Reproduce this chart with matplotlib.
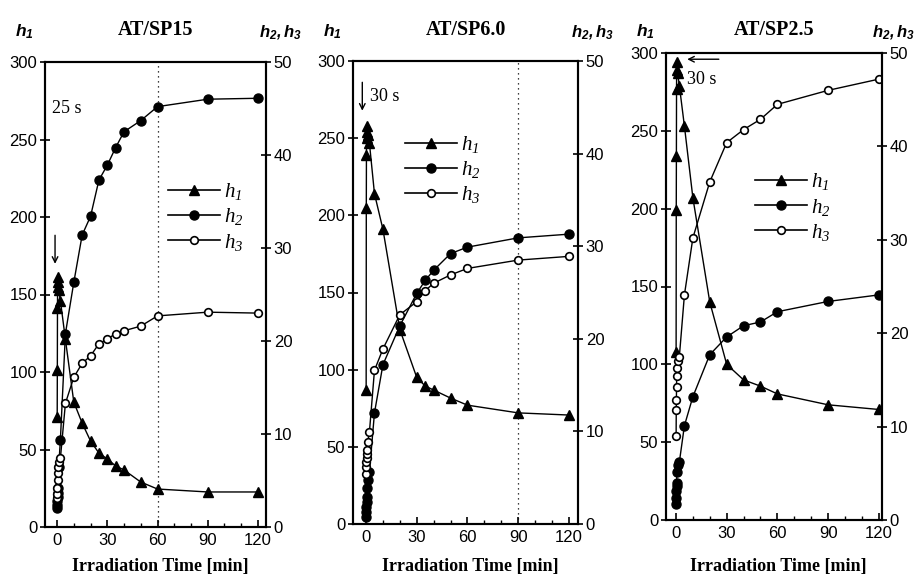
import matplotlib
matplotlib.use('Agg')
import matplotlib.pyplot as plt
from matplotlib.lines import Line2D
from matplotlib.ticker import MultipleLocator

# fuentes: numeros en sans, leyendas en serif italica
plt.rcParams['font.family'] = 'Liberation Sans'
plt.rcParams['mathtext.fontset'] = 'custom'
plt.rcParams['mathtext.it'] = 'Liberation Serif:italic'
plt.rcParams['mathtext.rm'] = 'Liberation Serif:italic'
plt.rcParams['mathtext.bf'] = 'Liberation Sans:italic:bold'

# tiempos en minutos; los primeros puntos son segundos (5 s ... 2 min)
t_seg = [5/60, 10/60, 15/60, 20/60, 25/60, 30/60, 1, 2]

# AT/SP15
t_sp15 = t_seg + [5, 10, 15, 20, 25, 30, 35, 40, 50, 60, 90, 120]
h1_sp15 = [71, 101, 141, 155, 161, 158, 153, 146,
           121, 80.6, 67, 55.5, 47.7, 43.9, 39.4, 36.8, 29, 24.5, 22.6, 22.6]
h2_sp15 = [2.0, 2.4, 2.8, 3.2, 3.7, 4.2, 6.5, 9.4,
           20.8, 26.3, 31.4, 33.4, 37.3, 38.9, 40.8, 42.5, 43.7, 45.2, 46.0, 46.1]
h3_sp15 = [3.1, 3.6, 4.2, 5.1, 5.8, 6.5, 7.0, 7.4,
           13.3, 16.1, 17.6, 18.4, 19.7, 20.2, 20.8, 21.1, 21.6, 22.7, 23.1, 23.0]

# AT/SP6.0
t_sp6 = t_seg + [5, 10, 20, 30, 35, 40, 50, 60, 90, 120]
h1_sp6 = [87, 205, 239, 250, 254, 258, 252, 247,
          214, 191, 126, 95, 89.4, 86.8, 81.6, 77, 72, 70.6]
h2_sp6 = [0.8, 1.3, 1.8, 2.4, 2.9, 3.9, 4.8, 5.6,
          12.0, 17.2, 21.4, 24.9, 26.3, 27.4, 29.2, 29.9, 30.9, 31.3]
h3_sp6 = [5.4, 6.2, 6.7, 7.1, 7.6, 8.0, 8.9, 9.9,
          16.6, 18.9, 22.6, 24.0, 25.2, 26.0, 26.9, 27.6, 28.5, 28.9]

# AT/SP2.5
t_sp25 = t_seg + [5, 10, 20, 30, 40, 50, 60, 90, 120]
h1_sp25 = [108, 199, 234, 277, 289, 294, 287, 279,
           253, 207, 140, 100, 90, 86, 81, 74, 71]
h2_sp25 = [1.7, 2.4, 3.1, 3.6, 4.0, 5.1, 5.9, 6.2,
           10.1, 13.2, 17.7, 19.6, 20.8, 21.2, 22.3, 23.4, 24.1]
h3_sp25 = [9.0, 11.8, 12.9, 14.2, 15.4, 16.3, 17.0, 17.5,
           24.1, 30.2, 36.2, 40.4, 41.8, 42.9, 44.5, 46.0, 47.2]

titulos = ['AT/SP15', 'AT/SP6.0', 'AT/SP2.5']
xticks = [0, 30, 60, 90, 120]

W, H = 916, 579
fig = plt.figure(figsize=(W / 100, H / 100), dpi=100)


def px(x0, y0, x1, y1):
    # caja en pixeles -> fraccion de la figura
    return [x0 / W, 1 - y1 / H, (x1 - x0) / W, (y1 - y0) / H]


def panel(caja, xlim, t, h1, h2, h3, titulo, leg_xy, vline=None):
    ax = fig.add_axes(px(*caja))
    ax2 = ax.twinx()
    ax.plot(t, h1, '-^', color='k', lw=1, ms=7, zorder=3)
    ax2.plot(t, h2, '-o', color='k', lw=1, ms=6.5)
    ax2.plot(t, h3, '-o', color='k', mfc='white', mew=1.2, lw=1, ms=5.5)
    if vline is not None:
        ax.axvline(vline, color='k', ls=(0, (1, 3)), lw=0.9)

    ax.set_xlim(*xlim)
    ax.set_ylim(0, 300)
    ax2.set_ylim(0, 50)
    ax.set_xticks(xticks)
    ax.xaxis.set_minor_locator(MultipleLocator(10))
    ax.set_yticks(range(0, 301, 50))
    ax2.set_yticks(range(0, 51, 10))
    ax.tick_params(axis='x', direction='in', length=5, width=1.2, labelsize=12, pad=4)
    ax.tick_params(axis='x', which='minor', direction='in', length=3, width=1)
    ax.tick_params(axis='y', direction='inout', length=7, width=1.2, labelsize=12, pad=2)
    ax2.tick_params(axis='y', direction='inout', length=7, width=1.2, labelsize=12, pad=2)
    for a in (ax, ax2):
        for s in a.spines.values():
            s.set_linewidth(1.5)

    handles = [
        Line2D([], [], color='k', marker='^', lw=1.2, ms=7),
        Line2D([], [], color='k', marker='o', lw=1.2, ms=6.5),
        Line2D([], [], color='k', marker='o', mfc='white', mew=1.2, lw=1.2, ms=5.5),
    ]
    ax2.legend(handles, [r'$h_1$', r'$h_2$', r'$h_3$'], loc='center left',
               bbox_to_anchor=leg_xy, frameon=False, fontsize=15,
               handlelength=2.5, handletextpad=0.2, labelspacing=0.2,
               borderpad=0, borderaxespad=0)

    # titulo y etiquetas de los ejes
    x0, y0, x1, y1 = caja
    fig.text((x0 + x1) / 2 / W, 1 - 30 / H, titulo, ha='center', va='center',
             family='Liberation Serif', fontsize=14.5, fontweight='bold')
    fig.text((x0 - 30) / W, 1 - 32 / H, r'$\mathbf{h}_{\mathbf{1}}$',
             ha='left', va='center', fontsize=12.5)
    fig.text(min(x1 + 36, 915) / W, 1 - 32 / H,
             r'$\mathbf{h}_{\mathbf{2}}\mathbf{,h}_{\mathbf{3}}$',
             ha='right', va='center', fontsize=12)
    fig.text((x0 + x1) / 2 / W + 0.005, 1 - 566 / H, 'Irradiation Time [min]',
             ha='center', va='center', family='Liberation Serif',
             fontsize=13, fontweight='bold')
    return ax, ax2


ax, ax2 = panel((45, 62, 266, 527), (-7.2, 124.8), t_sp15, h1_sp15, h2_sp15, h3_sp15,
                titulos[0], (0.555, 0.667), vline=60)
ax.annotate('', xy=(-1.2, 168), xytext=(-1.2, 190),
            arrowprops=dict(arrowstyle='->', color='k', lw=1))
ax.text(-3, 270, '25 s', family='Liberation Serif', fontsize=13, va='center')

ax, ax2 = panel((353, 61, 578, 524), (-7.7, 125.4), t_sp6, h1_sp6, h2_sp6, h3_sp6,
                titulos[1], (0.23, 0.765), vline=90)
ax.annotate('', xy=(-2.2, 266), xytext=(-2.2, 288),
            arrowprops=dict(arrowstyle='->', color='k', lw=1))
ax.text(2.5, 277, '30 s', family='Liberation Serif', fontsize=13, va='center')

ax, ax2 = panel((666, 53, 882, 520), (-5.9, 121.9), t_sp25, h1_sp25, h2_sp25, h3_sp25,
                titulos[2], (0.41, 0.67))
ax.annotate('', xy=(5, 296), xytext=(27, 296),
            arrowprops=dict(arrowstyle='->', color='k', lw=1))
ax.text(6.5, 283, '30 s', family='Liberation Serif', fontsize=13, va='center')

fig.savefig('out.png', dpi=100)
